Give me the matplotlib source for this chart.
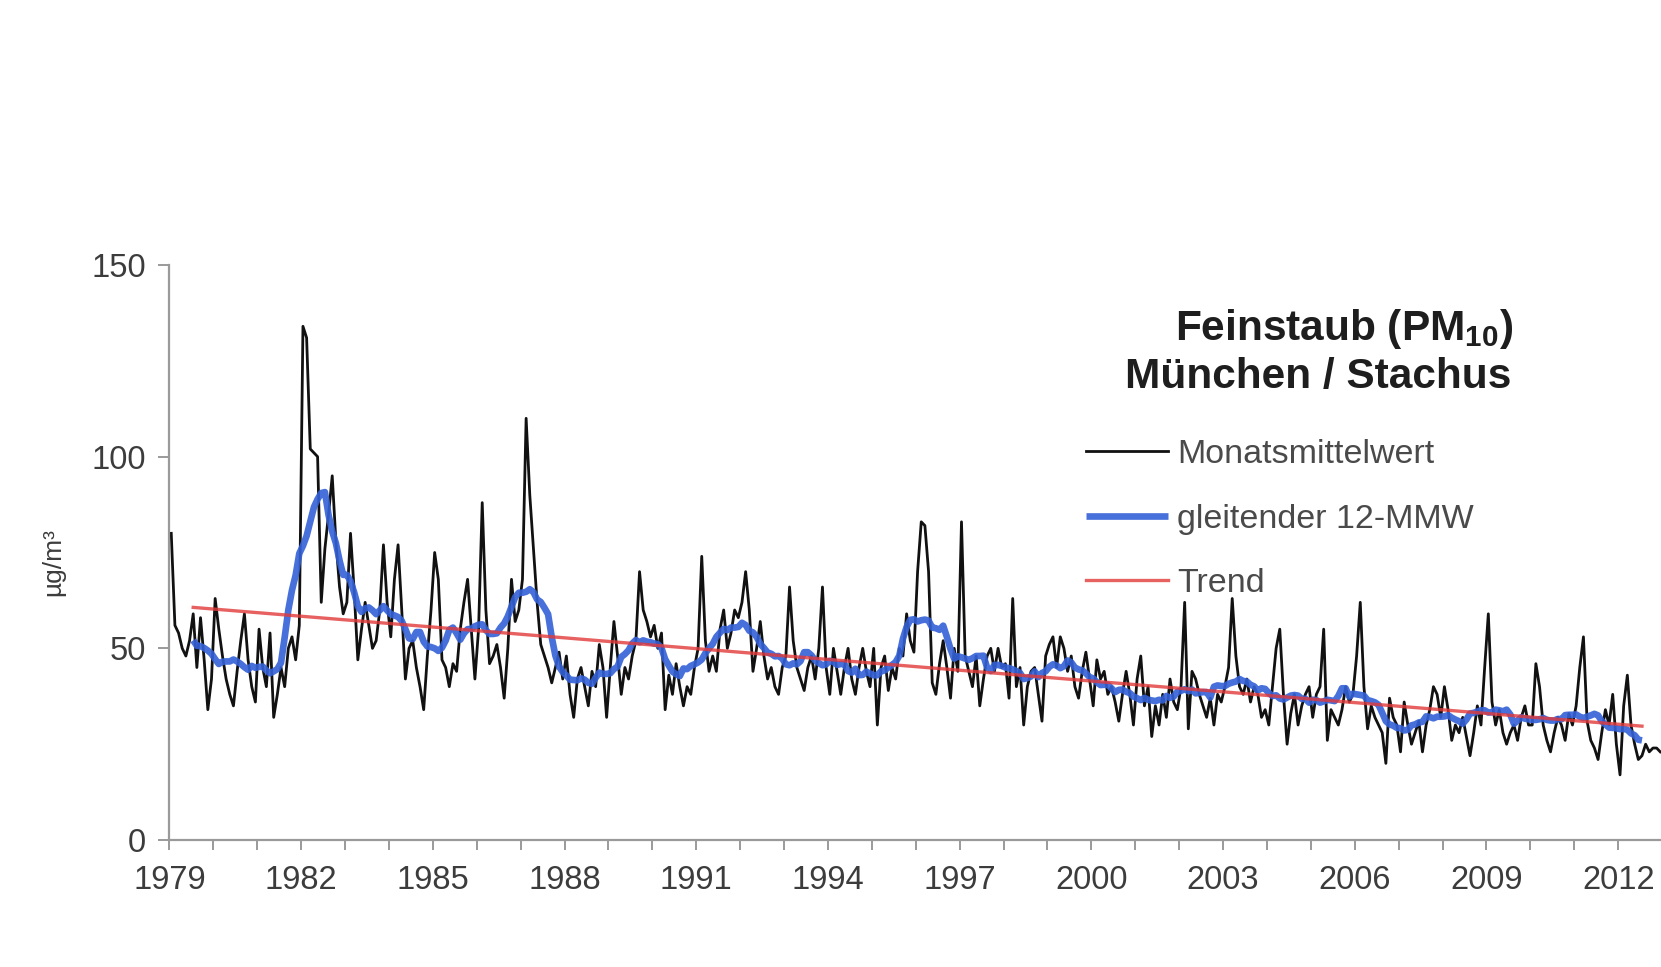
import numpy as np
import pandas as pd
import matplotlib
matplotlib.use("Agg")
import matplotlib.pyplot as plt

plt.rcParams["font.family"] = ["Liberation Sans", "DejaVu Sans"]
plt.rcParams["mathtext.fontset"] = "custom"
plt.rcParams["mathtext.rm"] = "Liberation Sans"
plt.rcParams["mathtext.bf"] = "Liberation Sans:bold"

# PM10 monthly means, Munich / Stachus, in µg/m³ (Jan..Dec)
m1979 = [80, 56, 54, 50, 48, 52, 59, 45, 58, 47, 34, 42]
m1980 = [63, 55, 48, 42, 38, 35, 44, 52, 59, 47, 40, 36]
m1981 = [55, 45, 40, 54, 32, 38, 45, 40, 50, 53, 47, 56]
m1982 = [134, 131, 102, 101, 100, 62, 76, 85, 95, 78, 66, 59]
m1983 = [62, 80, 65, 47, 55, 62, 56, 50, 52, 60, 77, 62]
m1984 = [53, 68, 77, 60, 42, 50, 52, 45, 40, 34, 48, 60]
m1985 = [75, 68, 47, 45, 40, 46, 44, 55, 62, 68, 55, 42]
m1986 = [55, 88, 60, 46, 48, 51, 45, 37, 50, 68, 57, 60]
m1987 = [68, 110, 90, 76, 62, 51, 48, 45, 41, 45, 49, 42]
m1988 = [48, 38, 32, 42, 45, 40, 35, 44, 40, 51, 45, 32]
m1989 = [45, 57, 48, 38, 45, 42, 48, 52, 70, 60, 57, 53]
m1990 = [56, 50, 54, 34, 43, 38, 46, 40, 35, 40, 38, 45]
m1991 = [50, 74, 52, 44, 48, 44, 55, 60, 50, 54, 60, 58]
m1992 = [62, 70, 60, 44, 50, 57, 48, 42, 45, 40, 38, 45]
m1993 = [48, 66, 52, 45, 42, 39, 45, 48, 42, 50, 66, 45]
m1994 = [38, 50, 44, 38, 45, 50, 42, 38, 45, 50, 44, 40]
m1995 = [50, 30, 45, 48, 39, 45, 42, 50, 48, 59, 52, 49]
m1996 = [70, 83, 82, 70, 41, 38, 46, 52, 45, 37, 50, 44]
m1997 = [83, 48, 44, 40, 48, 35, 42, 48, 50, 44, 50, 45]
m1998 = [46, 37, 63, 40, 45, 30, 40, 44, 45, 38, 31, 48]
m1999 = [51, 53, 45, 53, 50, 44, 48, 40, 37, 44, 49, 42]
m2000 = [35, 47, 42, 44, 38, 40, 36, 31, 38, 44, 38, 30]
m2001 = [42, 48, 35, 40, 27, 35, 30, 38, 32, 42, 36, 34]
m2002 = [40, 62, 29, 44, 42, 38, 35, 32, 37, 30, 38, 36]
m2003 = [40, 45, 63, 48, 40, 38, 42, 36, 40, 38, 32, 34]
m2004 = [30, 40, 50, 55, 38, 25, 33, 38, 30, 35, 38, 40]
m2005 = [32, 38, 40, 55, 26, 34, 32, 30, 34, 40, 36, 38]
m2006 = [48, 62, 40, 29, 35, 32, 30, 28, 20, 37, 32, 30]
m2007 = [23, 36, 30, 25, 28, 31, 23, 30, 34, 40, 38, 32]
m2008 = [40, 34, 26, 30, 28, 32, 27, 22, 28, 35, 30, 45]
m2009 = [59, 36, 30, 34, 28, 25, 28, 30, 26, 32, 35, 30]
m2010 = [30, 46, 40, 30, 26, 23, 28, 32, 30, 26, 33, 30]
m2011 = [35, 45, 53, 31, 26, 24, 21, 28, 34, 30, 38, 25]
m2012 = [17, 35, 43, 30, 25, 21, 22, 25, 23, 24, 24, 23]

first_year = 1979
year_ticks = list(range(1979, 2013, 3))
y_ticks = [0, 50, 100, 150]

title_lines = [r"Feinstaub (PM$_{\mathbf{10}}$)", "München / Stachus"]
labels = ["Monatsmittelwert", "gleitender 12-MMW", "Trend"]
y_label = "µg/m³"

monthly = np.concatenate([m1979, m1980, m1981, m1982, m1983, m1984, m1985,
                          m1986, m1987, m1988, m1989, m1990, m1991, m1992,
                          m1993, m1994, m1995, m1996, m1997, m1998, m1999,
                          m2000, m2001, m2002, m2003, m2004, m2005, m2006,
                          m2007, m2008, m2009, m2010, m2011, m2012]).astype(float)
t = first_year + (np.arange(len(monthly)) + 0.5) / 12.0

# centred 12-month moving mean and a linear trend over the same span
moving = pd.Series(monthly).rolling(12, center=True).mean().to_numpy()
valid = ~np.isnan(moving)
slope, intercept = np.polyfit(t, monthly, 1)
t_trend = t[valid][[0, -1]]
trend = slope * t_trend + intercept

fig = plt.figure(figsize=(16.61, 9.67), dpi=100)
ax = fig.add_axes([0.102, 0.1313, 0.898, 0.5947])

ax.plot(t, monthly, color="#111111", lw=2.0, zorder=2, label=labels[0])
ax.plot(t[valid], moving[valid], color="#3461d8", lw=4.8, alpha=0.9,
        zorder=3, solid_capstyle="butt", label=labels[1])
ax.plot(t_trend, trend, color="#e23a3a", lw=2.4, alpha=0.8, zorder=4,
        label=labels[2])

ax.set_xlim(1979, 2012.975)
ax.set_ylim(0, 150)
ax.set_xticks(year_ticks)
ax.set_xticklabels([str(y) for y in year_ticks])
ax.set_xticks(range(1979, 2013), minor=True)
ax.set_yticks(y_ticks)

axis_grey = "#9a9a9a"
for side in ("top", "right"):
    ax.spines[side].set_visible(False)
for side in ("left", "bottom"):
    ax.spines[side].set_color(axis_grey)
    ax.spines[side].set_linewidth(1.6)

ax.tick_params(axis="both", which="both", color=axis_grey, width=1.4,
               labelcolor="#3c3c3c", labelsize=23.5)
ax.tick_params(axis="x", which="both", direction="out", length=7, pad=11)
ax.tick_params(axis="y", which="major", direction="out", length=8, pad=9)

fig.text(53 / 1661, 1 - 562 / 967, y_label, rotation=90, ha="center",
         va="center", fontsize=19, color="#3c3c3c")

fig.text(1513 / 1661, 1 - 329 / 967, title_lines[0], ha="right", va="center",
         fontsize=30.5, fontweight="bold", color="#1e1e1e")
fig.text(1511 / 1661, 1 - 377 / 967, title_lines[1], ha="right", va="center",
         fontsize=30.5, fontweight="bold", color="#1e1e1e")

leg = ax.legend(loc="upper left", bbox_to_anchor=(1086 / 1661, 1 - 439 / 967),
                bbox_transform=fig.transFigure, frameon=False, fontsize=24.5,
                handlelength=2.4, handletextpad=0.27, labelspacing=0.99,
                borderpad=0, borderaxespad=0)
for txt in leg.get_texts():
    txt.set_color("#4a4a4a")

fig.savefig("out.png", dpi=100, facecolor="white")
